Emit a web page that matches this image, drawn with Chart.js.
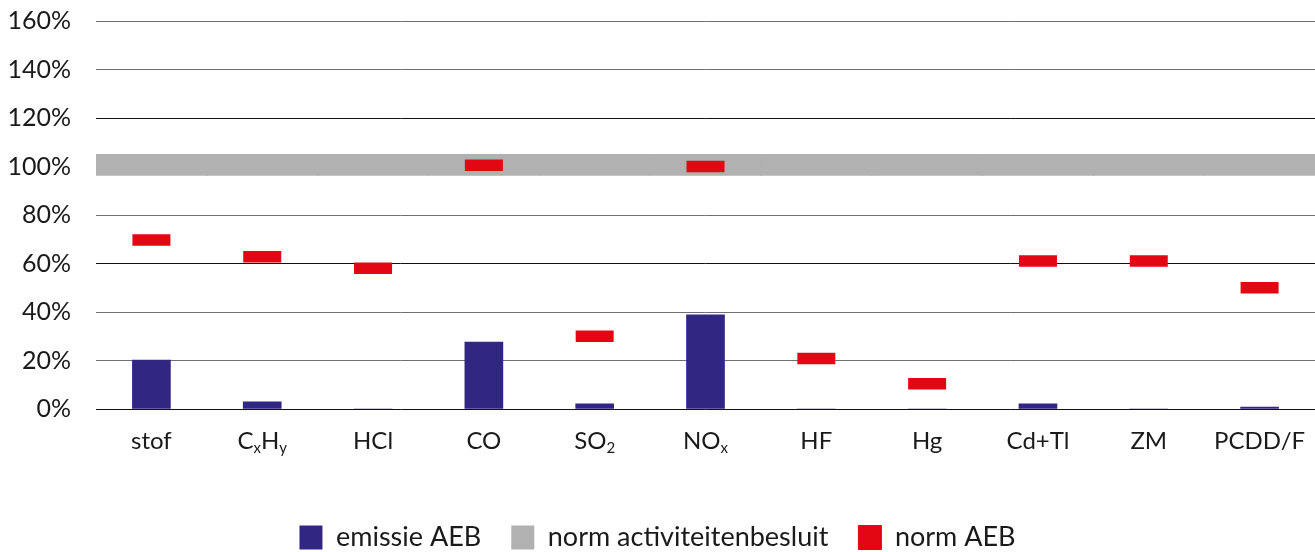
<!DOCTYPE html>
<html>
<head>
<meta charset="utf-8">
<script src="https://cdn.jsdelivr.net/npm/chart.js@4/dist/chart.umd.min.js"></script>
<style>
  html, body { margin: 0; padding: 0; background: #fff; }
  #wrap { width: 1315px; height: 552px; }
</style>
</head>
<body>
<div id="wrap"><canvas id="chart"></canvas></div>
<script>
// categorieën ("_x" = subscript)
const categories = ['stof', 'C_xH_y', 'HCl', 'CO', 'SO_2', 'NO_x', 'HF', 'Hg', 'Cd+Tl', 'ZM', 'PCDD/F'];
// waarden in % van de norm
const emissieAEB = [20.2, 3.0, 0, 27.6, 2.1, 38.8, 0, 0, 2.1, 0, 0.8];
const normActiviteitenbesluit = [100, 100, 100, 100, 100, 100, 100, 100, 100, 100, 100];
const normAEB = [69.7, 62.8, 58.0, 100.5, 30.0, 100.0, 20.8, 10.4, 61.0, 61.0, 50.0];
const yTicks = [0, 20, 40, 60, 80, 100, 120, 140, 160];

const FONT = 'Lato';

// x-labels met subscript zelf tekenen
const subscriptLabels = {
  id: 'subscriptLabels',
  afterDraw(chart) {
    const { ctx, scales: { x }, chartArea } = chart;
    const y = chartArea.bottom + 40;
    ctx.save();
    ctx.fillStyle = '#1a1a1a';
    ctx.textAlign = 'left';
    ctx.textBaseline = 'alphabetic';
    categories.forEach((label, i) => {
      const parts = label.split(/(_.)/).filter(Boolean).map(p =>
        p[0] === '_' ? { t: p.slice(1), sub: true } : { t: p, sub: false });
      let total = 0;
      parts.forEach(p => {
        ctx.font = (p.sub ? 15 : 24) + 'px ' + FONT;
        p.w = ctx.measureText(p.t).width;
        total += p.w;
      });
      let cx = x.getPixelForTick(i) - total / 2;
      parts.forEach(p => {
        ctx.font = (p.sub ? 15 : 24) + 'px ' + FONT;
        ctx.fillText(p.t, cx, p.sub ? y + 4 : y);
        cx += p.w;
      });
    });
    ctx.restore();
  }
};

new Chart(document.getElementById('chart'), {
  type: 'bar',
  data: {
    labels: categories.map(c => c.replace(/_/g, '')),
    datasets: [
      {
        label: 'emissie AEB',
        data: emissieAEB,
        backgroundColor: '#312783',
        barThickness: 38,
        grouped: false,
        order: 1
      },
      {
        label: 'norm activiteitenbesluit',
        data: normActiviteitenbesluit.map(v => [v - 3.8, v + 5.2]),
        backgroundColor: '#b1b1b1',
        barPercentage: 1.01,
        categoryPercentage: 1,
        grouped: false,
        order: 2
      },
      {
        type: 'line',
        label: 'norm AEB',
        data: normAEB,
        showLine: false,
        backgroundColor: '#e30613',
        borderColor: '#e30613',
        borderWidth: 1,
        pointStyle: 'line',
        pointRadius: 19,
        pointHoverRadius: 19,
        pointBorderWidth: 11.5,
        pointHoverBorderWidth: 11.5,
        pointBorderColor: '#e30613',
        order: 0
      }
    ]
  },
  options: {
    responsive: true,
    maintainAspectRatio: false,
    animation: false,
    layout: { autoPadding: false, padding: { top: 21, right: 0, bottom: -9, left: 0 } },
    scales: {
      x: {
        offset: true,
        grid: { display: false },
        border: { display: false },
        ticks: { display: false },
        afterFit: s => { s.height = 85; }
      },
      y: {
        min: 0,
        max: 160,
        afterBuildTicks: s => { s.ticks = yTicks.map(v => ({ value: v })); },
        grid: {
          drawTicks: false,
          lineWidth: 1,
          color: c => [0, 60, 120].includes(c.tick && c.tick.value) ? '#111' : '#6f6f6f'
        },
        border: { display: false },
        ticks: {
          padding: 25,
          color: '#1a1a1a',
          font: { family: FONT, size: 25 },
          callback: v => v + '%'
        },
        afterFit: s => { s.width = 96; s.paddingTop = 0; s.paddingBottom = 0; }
      }
    },
    plugins: {
      legend: {
        position: 'bottom',
        labels: {
          boxWidth: 23,
          boxHeight: 24,
          padding: 30,
          color: '#1a1a1a',
          font: { family: FONT, size: 27 },
          sort: (a, b) => a.datasetIndex - b.datasetIndex
        }
      },
      tooltip: { enabled: false }
    }
  },
  plugins: [subscriptLabels]
});
</script>
</body>
</html>
